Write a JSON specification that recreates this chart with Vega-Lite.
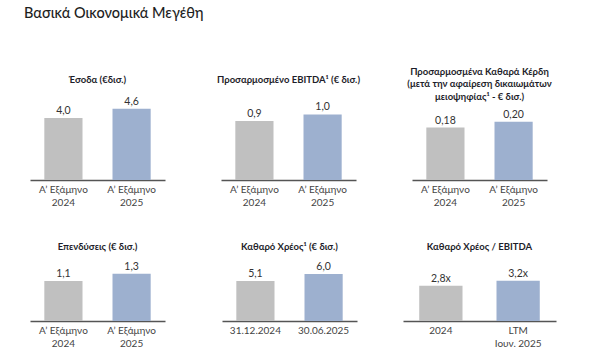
{
  "$schema": "https://vega.github.io/schema/vega-lite/v6.json",
  "background": "white",
  "padding": {"left": 24, "top": 6, "right": 5, "bottom": 5},
  "title": {"text": "Βασικά Οικονομικά Μεγέθη", "anchor": "start", "frame": "group", "dx": -6, "fontSize": 14.5, "fontWeight": 500, "font": "Lato", "color": "#1e1e1e", "offset": 45},
  "datasets": {
    "rev": [{"cat": "Α’ Εξάμηνο|2024", "s": "prev", "value": 4.0, "label": "4,0"}, {"cat": "Α’ Εξάμηνο|2025", "s": "curr", "value": 4.6, "label": "4,6"}],
    "ebitda": [{"cat": "Α’ Εξάμηνο|2024", "s": "prev", "value": 0.9, "label": "0,9"}, {"cat": "Α’ Εξάμηνο|2025", "s": "curr", "value": 1.0, "label": "1,0"}],
    "np": [{"cat": "Α’ Εξάμηνο|2024", "s": "prev", "value": 0.18, "label": "0,18"}, {"cat": "Α’ Εξάμηνο|2025", "s": "curr", "value": 0.20, "label": "0,20"}],
    "capex": [{"cat": "Α’ Εξάμηνο|2024", "s": "prev", "value": 1.1, "label": "1,1"}, {"cat": "Α’ Εξάμηνο|2025", "s": "curr", "value": 1.3, "label": "1,3"}],
    "debt": [{"cat": "31.12.2024", "s": "prev", "value": 5.1, "label": "5,1"}, {"cat": "30.06.2025", "s": "curr", "value": 6.0, "label": "6,0"}],
    "lev": [{"cat": "2024", "s": "prev", "value": 2.8, "label": "2,8x"}, {"cat": "LTM|Ιουν. 2025", "s": "curr", "value": 3.2, "label": "3,2x"}]
  },
  "resolve": {"scale": {"x": "independent", "y": "independent"}},
  "spacing": 33,
  "vconcat": [
    {
      "bounds": "flush",
      "spacing": 56,
      "resolve": {"scale": {"x": "independent", "y": "independent"}},
      "hconcat": [
        {
          "width": 135, "height": 84,
          "title": {"text": "Έσοδα (€δισ.)", "offset": 12},
          "data": {"name": "rev"},
          "encoding": {
            "x": {"field": "cat", "type": "nominal", "sort": null, "scale": {"paddingInner": 0.44, "paddingOuter": 0.21}},
            "y": {"field": "value", "type": "quantitative", "scale": {"domain": [0, 5.42]}, "axis": null}
          },
          "layer": [
            {"mark": {"type": "bar"}, "encoding": {"color": {"field": "s", "type": "nominal", "scale": {"domain": ["prev", "curr"], "range": ["#c0c0c0", "#9db0cf"]}, "legend": null}}},
            {"mark": {"type": "text", "baseline": "bottom", "dy": -2, "fontSize": 10.5, "color": "#333", "font": "Lato"}, "encoding": {"text": {"field": "label"}}}
          ]
        },
        {
          "width": 135, "height": 84,
          "title": {"text": "Προσαρμοσμένο EBITDA¹ (€ δισ.)", "offset": 12},
          "data": {"name": "ebitda"},
          "encoding": {
            "x": {"field": "cat", "type": "nominal", "sort": null, "scale": {"paddingInner": 0.44, "paddingOuter": 0.21}},
            "y": {"field": "value", "type": "quantitative", "scale": {"domain": [0, 1.28]}, "axis": null}
          },
          "layer": [
            {"mark": {"type": "bar"}, "encoding": {"color": {"field": "s", "type": "nominal", "scale": {"domain": ["prev", "curr"], "range": ["#c0c0c0", "#9db0cf"]}, "legend": null}}},
            {"mark": {"type": "text", "baseline": "bottom", "dy": -2, "fontSize": 10.5, "color": "#333", "font": "Lato"}, "encoding": {"text": {"field": "label"}}}
          ]
        },
        {
          "width": 135, "height": 84,
          "title": {"text": ["Προσαρμοσμένα Καθαρά Κέρδη", "(μετά την αφαίρεση δικαιωμάτων", "μειοψηφίας¹ - € δισ.)"], "offset": -5, "lineHeight": 12.5},
          "data": {"name": "np"},
          "encoding": {
            "x": {"field": "cat", "type": "nominal", "sort": null, "scale": {"paddingInner": 0.44, "paddingOuter": 0.21}},
            "y": {"field": "value", "type": "quantitative", "scale": {"domain": [0, 0.288]}, "axis": null}
          },
          "layer": [
            {"mark": {"type": "bar"}, "encoding": {"color": {"field": "s", "type": "nominal", "scale": {"domain": ["prev", "curr"], "range": ["#c0c0c0", "#9db0cf"]}, "legend": null}}},
            {"mark": {"type": "text", "baseline": "bottom", "dy": -2, "fontSize": 10.5, "color": "#333", "font": "Lato"}, "encoding": {"text": {"field": "label"}}}
          ]
        }
      ]
    },
    {
      "bounds": "flush",
      "spacing": 57,
      "resolve": {"scale": {"x": "independent", "y": "independent"}},
      "hconcat": [
        {
          "width": 135, "height": 63,
          "title": {"text": "Επενδύσεις (€ δισ.)", "offset": 7},
          "data": {"name": "capex"},
          "encoding": {
            "x": {"field": "cat", "type": "nominal", "sort": null, "scale": {"paddingInner": 0.44, "paddingOuter": 0.21}},
            "y": {"field": "value", "type": "quantitative", "scale": {"domain": [0, 1.736]}, "axis": null}
          },
          "layer": [
            {"mark": {"type": "bar"}, "encoding": {"color": {"field": "s", "type": "nominal", "scale": {"domain": ["prev", "curr"], "range": ["#c0c0c0", "#9db0cf"]}, "legend": null}}},
            {"mark": {"type": "text", "baseline": "bottom", "dy": -2, "fontSize": 10.5, "color": "#333", "font": "Lato"}, "encoding": {"text": {"field": "label"}}}
          ]
        },
        {
          "bounds": "flush",
          "spacing": 46,
          "resolve": {"scale": {"x": "independent", "y": "independent"}},
          "hconcat": [
            {
              "width": 135, "height": 63,
              "title": {"text": "Καθαρό Χρέος¹ (€ δισ.)", "offset": 7},
              "data": {"name": "debt"},
              "encoding": {
                "x": {"field": "cat", "type": "nominal", "sort": null, "scale": {"paddingInner": 0.44, "paddingOuter": 0.21}},
                "y": {"field": "value", "type": "quantitative", "scale": {"domain": [0, 8.04]}, "axis": null}
              },
              "layer": [
                {"mark": {"type": "bar"}, "encoding": {"color": {"field": "s", "type": "nominal", "scale": {"domain": ["prev", "curr"], "range": ["#c0c0c0", "#9db0cf"]}, "legend": null}}},
                {"mark": {"type": "text", "baseline": "bottom", "dy": -2, "fontSize": 10.5, "color": "#333", "font": "Lato"}, "encoding": {"text": {"field": "label"}}}
              ]
            },
            {
              "width": 153, "height": 63,
              "title": {"text": "Καθαρό Χρέος / EBITDA", "offset": 7},
              "data": {"name": "lev"},
              "encoding": {
                "x": {"field": "cat", "type": "nominal", "sort": null, "scale": {"paddingInner": 0.44, "paddingOuter": 0.21}},
                "y": {"field": "value", "type": "quantitative", "scale": {"domain": [0, 5.0]}, "axis": null}
              },
              "layer": [
                {"mark": {"type": "bar"}, "encoding": {"color": {"field": "s", "type": "nominal", "scale": {"domain": ["prev", "curr"], "range": ["#c0c0c0", "#9db0cf"]}, "legend": null}}},
                {"mark": {"type": "text", "baseline": "bottom", "dy": -2, "fontSize": 10.5, "color": "#333", "font": "Lato"}, "encoding": {"text": {"field": "label"}}}
              ]
            }
          ]
        }
      ]
    }
  ],
  "config": {
    "view": {"stroke": null},
    "font": "Lato",
    "title": {"font": "Lato", "fontSize": 9.5, "fontWeight": "bold", "color": "#1e1e2a"},
    "axisX": {"title": null, "ticks": false, "grid": false, "labelAngle": 0, "labelFontSize": 10, "labelColor": "#444", "labelPadding": 4, "labelLineHeight": 13.5, "labelFont": "Lato", "domainColor": "#555", "domainWidth": 1.5, "labelExpr": "split(datum.label, '|')"}
  }
}
